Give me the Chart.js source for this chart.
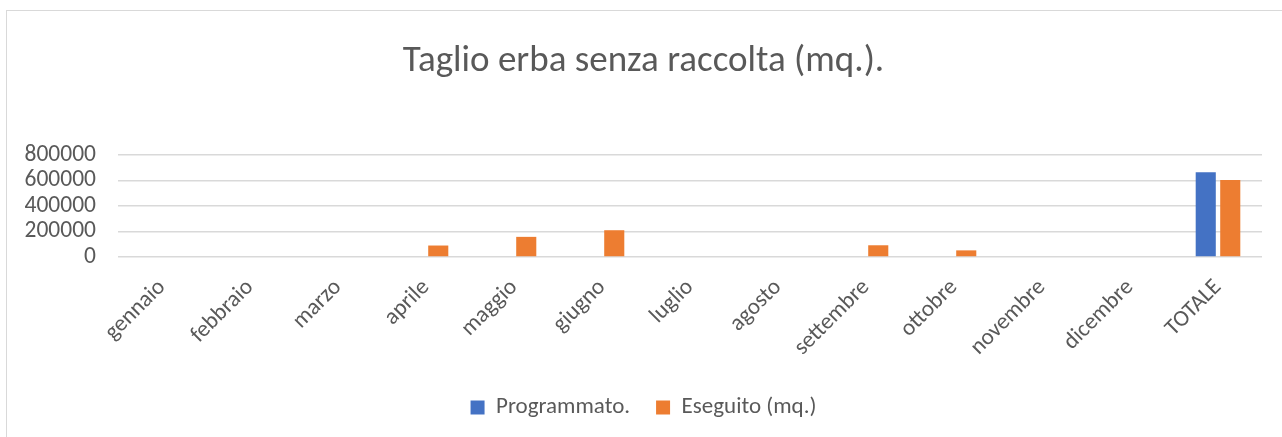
<!DOCTYPE html>
<html>
<head>
<meta charset="utf-8">
<script src="https://cdn.jsdelivr.net/npm/chart.js@4/dist/chart.umd.min.js"></script>
<style>
  body { margin: 0; background: #fff; }
  #wrap { position: relative; width: 1282px; height: 437px; overflow: hidden; }
  #frame { position: absolute; left: 6px; top: 10px; width: 1300px; height: 460px; border: 1px solid #d9d9d9; pointer-events: none; }
</style>
</head>
<body>
<div id="wrap">
  <canvas id="myChart" width="1282" height="437"></canvas>
  <div id="frame"></div>
</div>
<script>
const months = ['gennaio', 'febbraio', 'marzo', 'aprile', 'maggio', 'giugno', 'luglio',
    'agosto', 'settembre', 'ottobre', 'novembre', 'dicembre', 'TOTALE'];
const programmato = [0, 0, 0, 0, 0, 0, 0, 0, 0, 0, 0, 0, 664000];
const eseguito = [0, 0, 0, 90000, 158000, 210000, 0, 0, 92000, 52000, 0, 0, 604000];
const yTicks = [0, 200000, 400000, 600000, 800000];

document.addEventListener("DOMContentLoaded", () => {
    const font = "Carlito, 'Liberation Sans', sans-serif";
    const grey = '#595959';
    Chart.defaults.font.family = font;
    Chart.defaults.color = grey;

    const ctx = document.getElementById('myChart').getContext('2d');
    new Chart(ctx, {
        type: 'bar',
        data: {
            labels: months,
            datasets: [{
                label: 'Programmato.',
                data: programmato,
                backgroundColor: '#4472C4'
            }, {
                label: 'Eseguito (mq.)',
                data: eseguito,
                backgroundColor: '#ED7D31'
            }]
        },
        options: {
            responsive: false,
            animation: false,
            categoryPercentage: 0.557,
            barPercentage: 0.82,
            layout: { padding: { top: 10, bottom: 8, left: 25, right: 20 } },
            plugins: {
                title: {
                    display: true,
                    text: 'Taglio erba senza raccolta (mq.).',
                    color: grey,
                    font: { size: 37, weight: 'normal' },
                    padding: { top: 30, bottom: 70.6 }
                },
                legend: {
                    position: 'bottom',
                    labels: { boxWidth: 14, boxHeight: 14, padding: 26, font: { size: 23 }, color: grey }
                },
                tooltip: { enabled: false }
            },
            scales: {
                x: {
                    grid: { display: false },
                    border: { display: false },
                    ticks: { minRotation: 45, maxRotation: 45, padding: 9, font: { size: 23 }, color: grey },
                    afterFit: (s) => { s.height = 113; }
                },
                y: {
                    min: 0,
                    max: 800000,
                    afterBuildTicks: (s) => { s.ticks = yTicks.map(v => ({ value: v })); },
                    grid: { color: '#d9d9d9', lineWidth: 1.5, drawTicks: false },
                    border: { display: false },
                    ticks: { autoSkip: false, padding: 22, font: { size: 23.5 }, color: grey, callback: (v) => String(v) },
                    afterFit: (s) => { s.width = 93; }
                }
            }
        }
    });
});
</script>
</body>
</html>
